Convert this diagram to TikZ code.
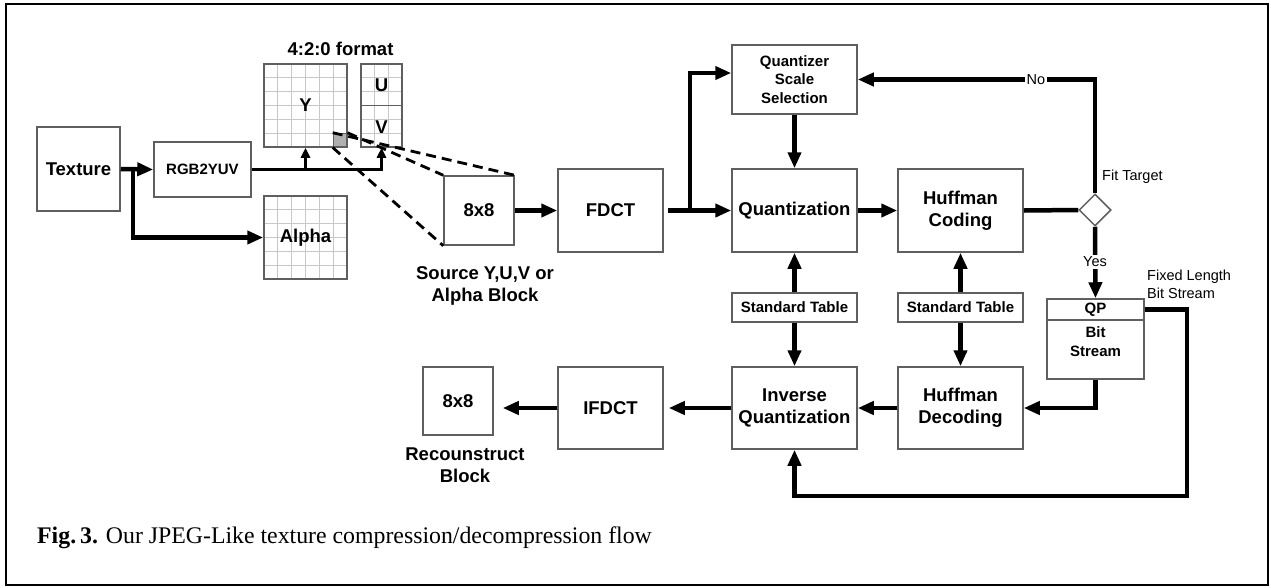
\documentclass[tikz,border=0pt]{standalone}
\usepackage{fontspec}
\setmainfont{Liberation Sans}
\newfontfamily\capfont{Liberation Serif}
\usetikzlibrary{arrows.meta,shapes.geometric}
\definecolor{boxgray}{RGB}{95,95,95}
\definecolor{gridgray}{RGB}{200,200,200}
\definecolor{cellgray}{RGB}{175,175,175}
\begin{document}
\begin{tikzpicture}[x=1pt,y=-1pt,
  box/.style={draw=boxgray, line width=1.5pt, inner sep=0pt, align=center,
    font=\bfseries\fontsize{18.5}{22}\selectfont},
  sbox/.style={box, font=\bfseries\fontsize{15}{18.5}\selectfont},
  plain/.style={inner sep=0pt, align=center, font=\bfseries\fontsize{18.5}{22}\selectfont},
  small/.style={inner sep=1pt, font=\fontsize{14.5}{18}\selectfont},
  flow/.style={line width=4.5pt, -{Triangle[length=16pt,width=13pt]}},
  thin flow/.style={line width=3pt, -{Triangle[length=10pt,width=9pt]}},
  link/.style={line width=4.5pt},
  dashline/.style={line width=2.8pt, dash pattern=on 10pt off 6pt},
  gridline/.style={gridgray, line width=1pt}
]
\useasboundingbox (0,0) rectangle (1271,587);
\draw[line width=2.5pt] (6,4) rectangle (1268,585);

% grids
\foreach \i in {1,...,5} {
  \draw[gridline] ({264+\i*83/6},64) -- ({264+\i*83/6},147);
  \draw[gridline] (264,{64+\i*83/6}) -- (347,{64+\i*83/6});
  \draw[gridline] ({264+\i*83/6},196) -- ({264+\i*83/6},279);
  \draw[gridline] (264,{196+\i*83/6}) -- (347,{196+\i*83/6});
}
\foreach \i in {1,2} \draw[gridline] ({361+\i*41/3},64) -- ({361+\i*41/3},147);
\foreach \i in {1,2,4,5} \draw[gridline] (361,{64+\i*83/6}) -- (402,{64+\i*83/6});

\node[fill=cellgray, draw=boxgray, line width=1pt, minimum size=13.8pt, inner sep=0pt] (gcell) at (340.1,140.1) {};

% nodes
\node[box, minimum width=83pt, minimum height=84pt] (texture) at (78.5,169) {Texture};
\node[sbox, minimum width=97pt, minimum height=55pt] (rgb) at (202.5,169.5) {RGB2YUV};
\node[box, minimum width=83pt, minimum height=83pt] (ybox) at (305.5,105.5) {Y};
\node[box, minimum width=41pt, minimum height=83pt] (uvbox) at (381.5,105.5) {};
\draw[boxgray, line width=1.5pt] (uvbox.west) -- (uvbox.east);
\node[plain] (ulab) at (381.5,85) {U};
\node[plain] (vlab) at (381.5,127) {V};
\node[plain] (fmt) at (340.5,49) {4:2:0 format};
\node[box, minimum width=83pt, minimum height=83pt] (alpha) at (305.5,237.5) {Alpha};
\node[box, minimum width=70pt, minimum height=69pt] (src) at (479,210.5) {8x8};
\node[plain] (srclab) at (485,286) {Source Y,U,V or\\Alpha Block};
\node[box, minimum width=105pt, minimum height=83pt] (fdct) at (610.5,210.5) {FDCT};
\node[sbox, minimum width=125pt, minimum height=69pt] (qss) at (794.5,79.5) {Quantizer\\Scale\\Selection};
\node[box, minimum width=125pt, minimum height=83pt] (quant) at (794.5,210.5) {Quantization};
\node[box, minimum width=125pt, minimum height=83pt] (huffc) at (960.5,210.5) {Huffman\\Coding};
\node[draw=boxgray, line width=1.5pt, shape=diamond, minimum width=32pt, minimum height=32pt, inner sep=0pt] (dia) at (1095,210) {};
\node[small, anchor=west] (fit) at (1101,177) {Fit Target};
\node[sbox, minimum width=125pt, minimum height=29pt] (std1) at (794.5,307.5) {Standard Table};
\node[sbox, minimum width=125pt, minimum height=29pt] (std2) at (960.5,307.5) {Standard Table};
\node[sbox, minimum width=97pt, minimum height=21pt] (qp) at (1095.5,309.5) {QP};
\node[sbox, minimum width=97pt, minimum height=59pt] (bits) at (1095.5,349.5) {};
\node[inner sep=0pt, align=center, font=\bfseries\fontsize{15}{19}\selectfont] (bitslab) at (1095.5,341.5) {Bit\\Stream};
\node[small, anchor=west, align=left] (fixed) at (1146,284) {Fixed Length\\Bit Stream};
\node[box, minimum width=125pt, minimum height=82pt] (huffd) at (960.5,408) {Huffman\\Decoding};
\node[box, minimum width=125pt, minimum height=82pt] (invq) at (794.5,408) {Inverse\\Quantization};
\node[box, minimum width=105pt, minimum height=82pt] (ifdct) at (610.5,408) {IFDCT};
\node[box, minimum width=70pt, minimum height=68pt] (rec) at (458,401) {8x8};
\node[plain] (reclab) at (465,465) {Recounstruct\\Block};

% coordinates
\coordinate (b1) at (133,169);
\coordinate (b2) at (690,210.5);
\coordinate (loopc) at (1187,496);

% connectors
\draw[flow] (texture.east) -- (rgb.west);
\draw[flow] (b1) |- (alpha.west);
\draw[thin flow] (rgb.east) -| (uvbox.south);
\draw[thin flow] (ybox.south |- rgb.east) -- (ybox.south);

\draw[dashline] (gcell.north west) -- (src.north east);
\draw[dashline] (gcell.north east) -- (src.north west);
\draw[dashline] (gcell.south west) -- (src.south west);

\draw[flow] (src.east) -- (fdct.west);
\draw[flow] ([xshift=4pt]fdct.east) -- (quant.west);
\draw[flow] (b2) |- ([yshift=6.5pt]qss.west);
\draw[flow] (qss.south) -- (quant.north);
\draw[flow] (quant.east) -- (huffc.west);
\draw[link] (huffc.east) -- (dia.west);
\draw[flow] (dia.north) |- (qss.east);
\node[small, fill=white, inner sep=1.5pt] (no) at (1036,79.5) {No};
\draw[flow] (dia.south) -- (qp.north);
\node[small, fill=white, inner sep=2pt] (yes) at (1095,262) {Yes};

\draw[flow] (std1.north) -- (quant.south);
\draw[flow] (std1.south) -- (invq.north);
\draw[flow] (std2.north) -- (huffc.south);
\draw[flow] (std2.south) -- (huffd.north);

\draw[flow] (bits.south) |- (huffd.east);
\draw[flow] (qp.east) -| (loopc) -| (invq.south);
\draw[flow] (huffd.west) -- (invq.east);
\draw[flow, shorten >=5pt] (invq.west) -- (ifdct.east);
\draw[flow, shorten >=9pt] (ifdct.west) -- (rec.east |- ifdct.west);

% caption
\node[anchor=base west, inner sep=0pt, font=\capfont\fontsize{23.8}{26}\selectfont] (cap) at (37,543)
  {\textbf{Fig.\,3.} Our JPEG-Like texture compression/decompression flow};
\end{tikzpicture}
\end{document}
